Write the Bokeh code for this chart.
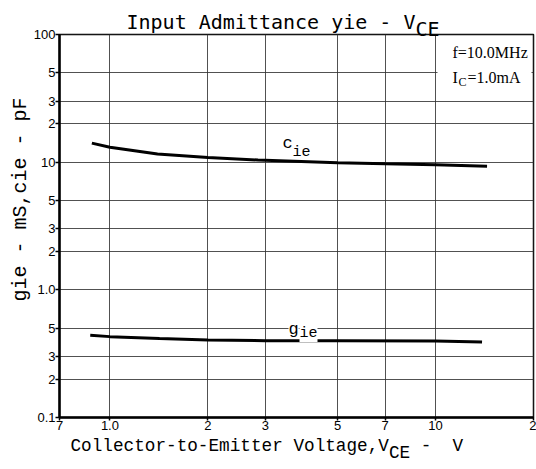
import math
from bokeh.plotting import figure
from bokeh.models import Range1d, FixedTicker, Label, BoxAnnotation
from bokeh.embed import file_html
from bokeh.resources import INLINE

# ---- data ----
vce_c = [0.88, 1.0, 1.4, 2.0, 2.85, 5.0, 7.0, 10.0, 14.4]
cie = [14.1, 13.1, 11.6, 10.9, 10.4, 9.9, 9.7, 9.55, 9.3]
vce_g = [0.87, 1.0, 1.42, 2.0, 3.0, 5.0, 10.0, 13.9]
gie = [0.44, 0.43, 0.415, 0.405, 0.40, 0.40, 0.397, 0.39]

x_ticks = [0.7, 1, 2, 3, 5, 7, 10, 20]
x_tick_labels = ["7", "1.0", "2", "3", "5", "7", "10", "2"]
y_ticks = [0.1, 0.2, 0.3, 0.5, 1, 2, 3, 5, 10, 20, 30, 50, 100]
y_tick_labels = ["0.1", "2", "3", "5", "1.0", "2", "3", "5", "10", "2", "3", "5", "100"]

X0, X1 = 0.7, 20.0
Y0, Y1 = 0.1, 100.0

# page-pixel geometry of the frame (page offset observed as 0)
OFF = 0
W, H = 536, 466
FL, FR, FT, FB = 59, 533, 34, 417

NB = "\u00a0"


def dx(px):
    lx0, lx1 = math.log10(X0), math.log10(X1)
    return 10 ** (lx0 + (px - FL) / (FR - FL) * (lx1 - lx0))


def dy(py):
    ly0, ly1 = math.log10(Y0), math.log10(Y1)
    return 10 ** (ly0 + (FB - py) / (FB - FT) * (ly1 - ly0))


p = figure(width=W, height=H, x_axis_type="log", y_axis_type="log",
           x_range=Range1d(X0 * 0.99999, X1 * 1.00001),
           y_range=Range1d(Y0 * 0.99999, Y1 * 1.00001),
           output_backend="svg", toolbar_location=None, title=None,
           min_border_left=FL - OFF, min_border_right=OFF + W - FR,
           min_border_top=FT - OFF, min_border_bottom=OFF + H - FB)
p.background_fill_color = "white"
p.border_fill_color = "white"
p.outline_line_color = "black"
p.outline_line_width = 1.5

xt = FixedTicker(ticks=x_ticks)
yt = FixedTicker(ticks=y_ticks)
p.xaxis.ticker = xt
p.yaxis.ticker = yt
p.xgrid.ticker = xt
p.ygrid.ticker = yt
p.xaxis.major_label_overrides = {t: l for t, l in zip(x_ticks, x_tick_labels)}
p.yaxis.major_label_overrides = {t: l for t, l in zip(y_ticks, y_tick_labels)}

for ax in (p.xaxis, p.yaxis):
    ax.axis_line_width = 2.5
    ax.axis_line_color = "black"
    ax.major_tick_in = 0
    ax.minor_tick_in = 0
    ax.minor_tick_out = 0
    ax.major_tick_line_color = "black"
    ax.major_tick_line_width = 1.5
    ax.major_label_text_font = "Liberation Sans"
    ax.major_label_text_font_size = "13px"
    ax.major_label_text_color = "black"
p.xaxis.major_tick_out = 3
p.xaxis.major_label_standoff = 0
p.yaxis.major_tick_out = 4
p.yaxis.major_label_standoff = 0

for g in (p.xgrid, p.ygrid):
    g.grid_line_color = "#333333"
    g.grid_line_width = 1
    g.grid_line_alpha = 0.85

# curves
p.line(vce_c, cie, line_color="black", line_width=3)
p.line(vce_g, gie, line_color="black", line_width=3)

# white area behind conditions text
p.add_layout(BoxAnnotation(left=dx(437), right=dx(531), top=dy(36), bottom=dy(88),
                           fill_color="white", fill_alpha=1.0, line_alpha=0))


def lab(px, py, text, font, size, align="left", baseline="alphabetic", angle=0.0,
        bg=None, place="center", lh=1.2):
    kw = {}
    if bg is not None:
        kw = dict(background_fill_color=bg, background_fill_alpha=1.0)
    p.add_layout(Label(x=dx(px), y=dy(py), text=text, text_font=font,
                       text_font_size=f"{size}px", text_align=align,
                       text_baseline=baseline, angle=angle, text_color="black",
                       text_line_height=lh, **kw),
                 place)


# title (second line carries the subscript)
lab(126, 25, "Input Admittance yie - V\n" + NB * 24 + "CE", "DejaVu Sans Mono", 20,
    place="above", lh=0.3)

# x axis label (second line carries the subscript)
lab(70, 449, "Collector-to-Emitter Voltage,V" + NB * 3 + "-" + NB * 2 + "V\n" + NB * 30 + "CE",
    "Liberation Mono", 17.7, place="below", lh=0.34)

# y axis label
lab(20, 199, "gie - mS,cie - pF", "Liberation Mono", 20, align="center",
    baseline="middle", angle=math.pi / 2, place="left")

# curve labels
lab(282, 143, "c", "Liberation Mono", 17)
lab(292, 152, "ie", "Liberation Mono", 15)
lab(288, 329, "g", "Liberation Mono", 17, bg="white")
lab(299, 333, "ie", "Liberation Mono", 15, bg="white")

# conditions
lab(452, 52, "f=10.0MHz", "Liberation Serif", 16)
lab(452, 77, "I", "Liberation Serif", 16)
lab(458, 81, "C", "Liberation Serif", 12)
lab(467, 77, "=1.0mA", "Liberation Serif", 16)

open("out.html", "w").write(file_html(p, INLINE))
